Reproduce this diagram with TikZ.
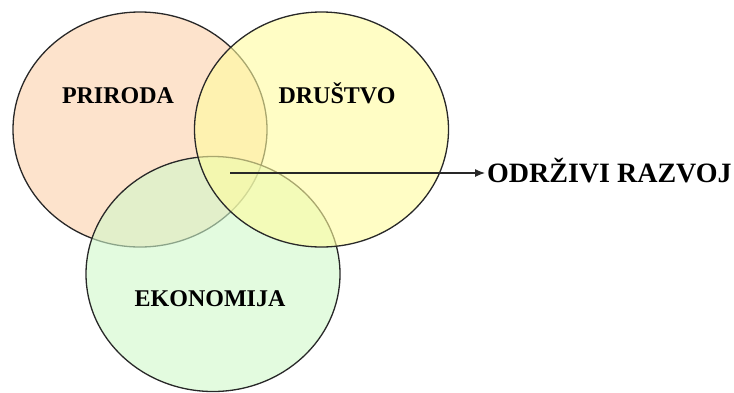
\documentclass[tikz,border=0pt]{standalone}
\usepackage{fontspec}
\setmainfont{Liberation Serif}
\usepackage{xcolor}
\usetikzlibrary{shapes,arrows.meta}

\definecolor{priroda}{RGB}{252,208,170}
\definecolor{drustvo}{RGB}{255,252,158}
\definecolor{ekonomija}{RGB}{208,248,202}
\definecolor{rub}{RGB}{40,40,40}

\tikzset{
	krug/.style={ellipse, draw=rub, line width=1.3pt, fill opacity=0.6,
		minimum width=254pt, minimum height=235pt, inner sep=0pt},
	naziv/.style={font=\fontsize{24}{24}\selectfont\bfseries, inner sep=0pt, anchor=base},
}

\begin{document}
\begin{tikzpicture}[x=1pt,y=-1pt]
		\useasboundingbox (0,0) rectangle (734,392);
		% krugovi
		\node [krug, fill=priroda] (priroda) at (140,129.5) {};
		\node [krug, fill=ekonomija] (ekonomija) at (213,274) {};
		\node [krug, fill=drustvo] (drustvo) at (321.5,129.5) {};
		% nazivi
		\node [naziv] (tpriroda) at (118,103) {PRIRODA};
		\node [naziv] (tdrustvo) at (337,103) {DRUŠTVO};
		\node [naziv] (tekonomija) at (210,306) {EKONOMIJA};
		\node [font=\fontsize{28}{28}\selectfont\bfseries, inner ysep=0pt, inner xsep=2pt,
			text height=19pt, text depth=0pt, anchor=west] (razvoj) at (485,173) {ODRŽIVI RAZVOJ};
		\coordinate (pocetak) at (230,173);
		\draw [-{Latex[length=10pt,width=8pt]}, line width=1.1pt, draw=rub] (pocetak) -- (razvoj.west);
\end{tikzpicture}
\end{document}
